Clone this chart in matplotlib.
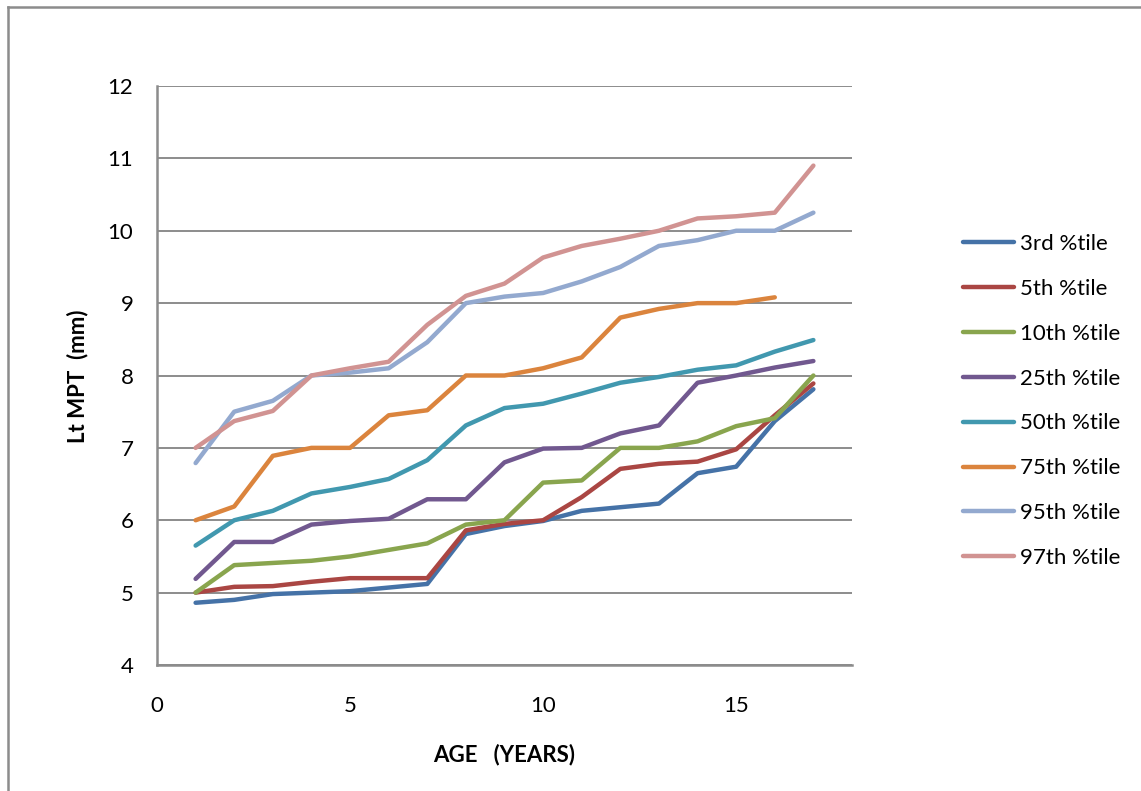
"""
Left MPT (mm) percentile curves by age.
"""

import matplotlib
matplotlib.use("Agg")
import matplotlib.pyplot as plt
from matplotlib.lines import Line2D

plt.rcParams["font.family"] = ["Lato", "DejaVu Sans"]

# ---------------------------------------------------------------------------
# Data
# ---------------------------------------------------------------------------
AGES = list(range(1, 18))
AGES_75 = list(range(1, 17))   # 75th series stops at 16 years

P3 = [4.86, 4.90, 4.98, 5.00, 5.02, 5.07, 5.12, 5.81, 5.92, 5.99,
      6.13, 6.18, 6.23, 6.65, 6.74, 7.37, 7.81]
P5 = [5.00, 5.08, 5.09, 5.15, 5.20, 5.20, 5.20, 5.86, 5.95, 6.00,
      6.32, 6.71, 6.78, 6.81, 6.98, 7.45, 7.89]
P10 = [5.00, 5.38, 5.41, 5.44, 5.50, 5.59, 5.68, 5.94, 6.00, 6.52,
       6.55, 7.00, 7.00, 7.09, 7.30, 7.41, 8.00]
P25 = [5.19, 5.70, 5.70, 5.94, 5.99, 6.02, 6.29, 6.29, 6.80, 6.99,
       7.00, 7.20, 7.31, 7.90, 8.00, 8.11, 8.20]
P50 = [5.65, 6.00, 6.13, 6.37, 6.46, 6.57, 6.83, 7.31, 7.55, 7.61,
       7.75, 7.90, 7.98, 8.08, 8.14, 8.33, 8.49]
P75 = [6.00, 6.19, 6.89, 7.00, 7.00, 7.45, 7.52, 8.00, 8.00, 8.10,
       8.25, 8.80, 8.92, 9.00, 9.00, 9.08]
P95 = [6.79, 7.50, 7.65, 8.00, 8.04, 8.10, 8.46, 9.00, 9.09, 9.14,
       9.30, 9.50, 9.79, 9.87, 10.00, 10.00, 10.25]
P97 = [7.00, 7.37, 7.51, 8.00, 8.10, 8.19, 8.70, 9.10, 9.27, 9.63,
       9.79, 9.89, 10.00, 10.17, 10.20, 10.25, 10.90]

SERIES = [
    ("3rd %tile",  AGES,    P3,  "#4572A7"),
    ("5th %tile",  AGES,    P5,  "#AA4643"),
    ("10th %tile", AGES,    P10, "#89A54E"),
    ("25th %tile", AGES,    P25, "#71588F"),
    ("50th %tile", AGES,    P50, "#4198AF"),
    ("75th %tile", AGES_75, P75, "#DB843D"),
    ("95th %tile", AGES,    P95, "#93A9CF"),
    ("97th %tile", AGES,    P97, "#D19392"),
]

X_TICKS = [0, 5, 10, 15]
Y_TICKS = [4, 5, 6, 7, 8, 9, 10, 11, 12]

GRID = "#8c8c8c"
W, H = 1141, 791
FS = 16

# ---------------------------------------------------------------------------
# Figure
# ---------------------------------------------------------------------------
fig = plt.figure(figsize=(W / 100, H / 100), dpi=100)
ax = fig.add_axes([157 / W, 1 - 665 / H, (852 - 157) / W, (665 - 86) / H])

for label, xs, ys, colour in SERIES:
    ax.plot(xs, ys, color=colour, linewidth=3.2, label=label,
            solid_capstyle="round", solid_joinstyle="round", zorder=3)

ax.set_xlim(0, 18)
ax.set_ylim(4, 12)
ax.set_xticks(X_TICKS)
ax.set_yticks(Y_TICKS)
ax.tick_params(axis="both", length=0, labelsize=FS, colors="black")
ax.tick_params(axis="x", pad=22)
ax.tick_params(axis="y", pad=17)

ax.grid(axis="y", color=GRID, linewidth=1.4, zorder=1)
for side in ("top", "right"):
    ax.spines[side].set_visible(False)
for side in ("left", "bottom"):
    ax.spines[side].set_color(GRID)
    ax.spines[side].set_linewidth(1.8)

fig.text(504 / W, 1 - 755 / H, "AGE   (YEARS)", ha="center", va="center",
         fontsize=FS, fontweight="bold")
fig.text(78 / W, 1 - 376 / H, "Lt MPT  (mm)", ha="center", va="center",
         rotation=90, fontsize=FS, fontweight="bold")

fig.legend(loc="center left", bbox_to_anchor=(963 / W, 1 - 401 / H),
           frameon=False, fontsize=FS, handlelength=2.3, handletextpad=0.25,
           labelspacing=1.12, borderpad=0, borderaxespad=0)

# chart-area border (left and top edges)
fig.add_artist(Line2D([8 / W, 8 / W], [0, 1 - 7 / H], color=GRID, linewidth=1.8,
                      transform=fig.transFigure))
fig.add_artist(Line2D([8 / W, 1], [1 - 7 / H, 1 - 7 / H], color=GRID, linewidth=1.8,
                      transform=fig.transFigure))

fig.savefig("out.png", dpi=100)
